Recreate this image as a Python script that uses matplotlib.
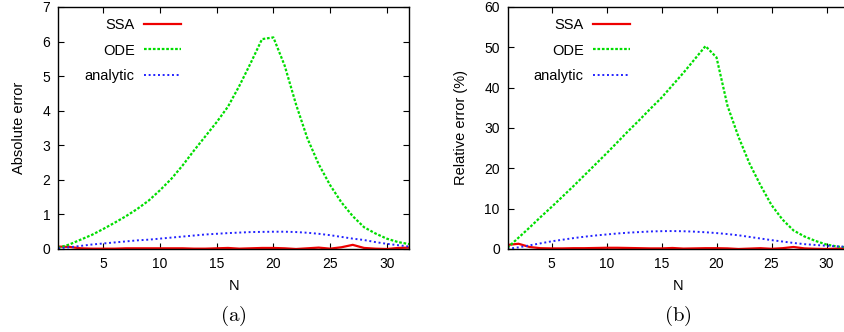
import numpy as np
import matplotlib
matplotlib.use('Agg')
import matplotlib.pyplot as plt

plt.rcParams['font.family'] = ['Liberation Sans', 'DejaVu Sans']
plt.rcParams['mathtext.fontset'] = 'cm'

N = np.arange(1, 33)

# absolute error (a)
ssa_abs = [0.07, 0.06, 0.02, 0.01, 0.01, 0.01, 0.02, 0.02, 0.02, 0.02, 0.02, 0.02, 0.01, 0.01, 0.02, 0.03,
           0.01, 0.02, 0.03, 0.03, 0.02, 0.0, 0.02, 0.04, 0.01, 0.05, 0.12, 0.03, 0.01, 0.0, 0.03, 0.04]
ode_abs = [0.03, 0.13, 0.27, 0.41, 0.58, 0.76, 0.95, 1.16, 1.40, 1.70, 2.03, 2.42, 2.85, 3.26, 3.67, 4.12,
           4.72, 5.38, 6.07, 6.12, 5.30, 4.18, 3.20, 2.45, 1.85, 1.35, 0.95, 0.63, 0.45, 0.30, 0.20, 0.14]
ana_abs = [0.02, 0.05, 0.09, 0.13, 0.16, 0.19, 0.22, 0.25, 0.27, 0.30, 0.33, 0.36, 0.39, 0.42, 0.44, 0.46,
           0.475, 0.49, 0.495, 0.50, 0.50, 0.49, 0.47, 0.44, 0.40, 0.35, 0.30, 0.26, 0.20, 0.15, 0.11, 0.07]

# relative error in % (b)
ssa_rel = [1.0, 1.3, 0.5, 0.2, 0.15, 0.15, 0.2, 0.2, 0.25, 0.3, 0.3, 0.25, 0.2, 0.15, 0.15, 0.25,
           0.1, 0.15, 0.2, 0.2, 0.15, 0.0, 0.1, 0.2, 0.05, 0.2, 0.5, 0.15, 0.05, 0.0, 0.1, 0.15]
ode_rel = [0.3, 2.8, 5.3, 7.9, 10.4, 13.0, 15.6, 18.3, 21.0, 23.7, 26.5, 29.3, 32.0, 34.8, 37.5, 40.6,
           43.7, 47.0, 50.3, 47.5, 35.5, 27.8, 21.2, 15.8, 10.9, 7.3, 4.6, 3.1, 2.0, 1.1, 0.6, 0.4]
ana_rel = [0.05, 0.4, 0.9, 1.4, 1.9, 2.3, 2.7, 3.05, 3.35, 3.6, 3.85, 4.05, 4.2, 4.35, 4.42, 4.45,
           4.4, 4.3, 4.15, 3.95, 3.7, 3.4, 3.0, 2.6, 2.2, 1.85, 1.5, 1.2, 1.0, 0.8, 0.65, 0.5]

panels = [
    (ssa_abs, ode_abs, ana_abs, 'Absolute error', (0, 7), np.arange(0, 8, 1), 'a'),
    (ssa_rel, ode_rel, ana_rel, 'Relative error (%)', (0, 60), np.arange(0, 70, 10), 'b'),
]
positions = [[58/844, 0.25, 351.4/844, 0.729], [507.5/844, 0.25, 341/844, 0.729]]
legend_x = [0.045, 0.045]

fig = plt.figure(figsize=(8.44, 3.32), dpi=100)
for i, ((ssa, ode, ana, ylabel, ylim, yticks, cap), pos) in enumerate(zip(panels, positions)):
    ax = fig.add_axes(pos)
    ax.plot(N, ssa, color='#ee0000', lw=1.6, label='SSA')
    ax.plot(N, ode, color='#00dd00', lw=1.6, ls=(0, (1.2, 0.8)), label='ODE')
    ax.plot(N, ana, color='#2222ff', lw=1.4, ls=(0, (1, 1.4)), label='analytic')
    ax.set_xlim(1, 32)
    ax.set_ylim(*ylim)
    ax.set_xticks([5, 10, 15, 20, 25, 30])
    ax.set_yticks(yticks)
    ax.tick_params(direction='in', length=4.5, width=0.8, top=True, right=(i == 0),
                   labelsize=10, pad=5.5)
    ax.tick_params(axis='x', pad=5.5)
    for s in ax.spines.values():
        s.set_linewidth(1.0)
    ax.set_xlabel('N', fontsize=10.5, labelpad=6)
    ax.set_ylabel(ylabel, fontsize=10.5, labelpad=12)
    ax.legend(loc='upper left', bbox_to_anchor=(legend_x[i], 1.0), frameon=False, markerfirst=False,
              fontsize=10.5, handlelength=2.6, handletextpad=0.6, labelspacing=0.8,
              borderaxespad=0.35)
    ax.text(0.5, -0.275, r'$(\mathrm{%s})$' % cap, transform=ax.transAxes, ha='center',
            va='center', fontsize=15)

fig.savefig('out.png', dpi=100)
